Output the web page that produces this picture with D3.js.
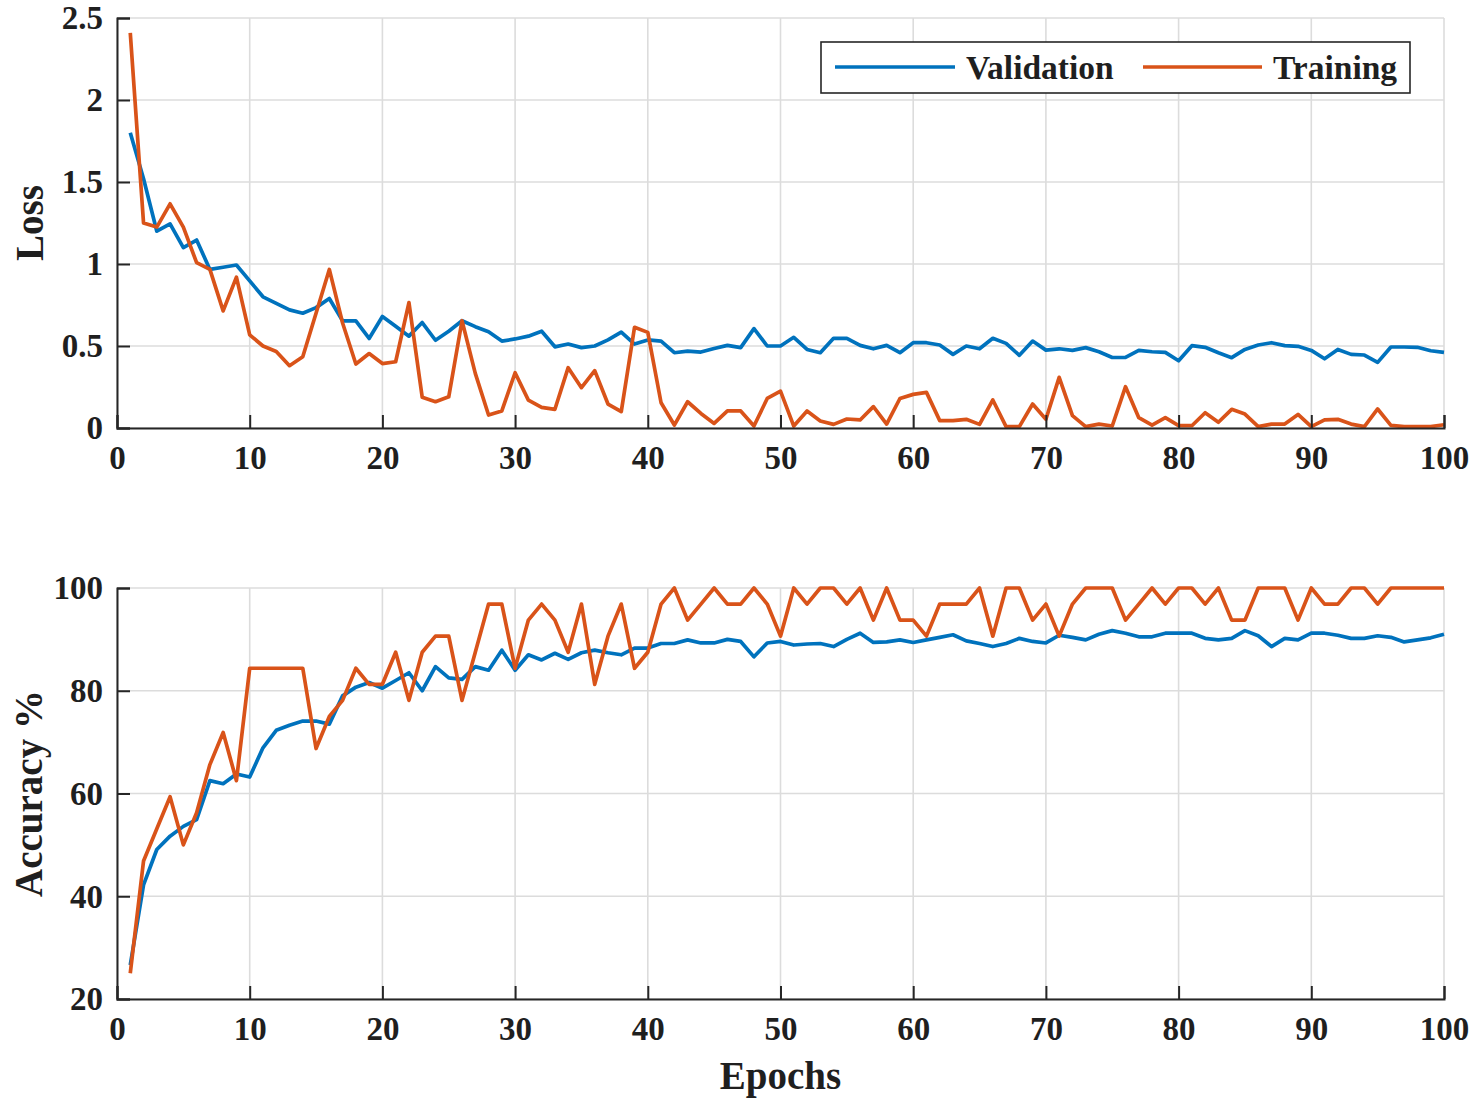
<!DOCTYPE html>
<html>
<head>
<meta charset="utf-8">
<script src="https://cdn.jsdelivr.net/npm/d3@7"></script>
<style>
  html, body { margin: 0; padding: 0; background: #fff; }
  svg { display: block; }
  text { font-family: "Liberation Serif", "Times New Roman", serif; font-weight: bold; fill: #1f1f1f; }
</style>
</head>
<body>
<svg id="chart" width="1477" height="1105"></svg>
<script>
const epochs = d3.range(1, 101);

const valLoss = [
  1.80,1.52,1.20,1.245,1.10,1.146,0.967,0.98,0.994,0.897,
  0.80,0.76,0.72,0.70,0.734,0.79,0.653,0.653,0.546,0.68,
  0.62,0.56,0.643,0.535,0.59,0.654,0.618,0.587,0.53,0.543,
  0.56,0.59,0.495,0.512,0.49,0.50,0.537,0.585,0.512,0.537,
  0.53,0.459,0.469,0.463,0.485,0.504,0.49,0.606,0.50,0.50,
  0.553,0.479,0.459,0.547,0.547,0.504,0.483,0.504,0.459,0.52,
  0.52,0.506,0.449,0.50,0.483,0.547,0.516,0.443,0.53,0.475,
  0.483,0.473,0.49,0.465,0.43,0.43,0.473,0.465,0.461,0.41,
  0.502,0.492,0.459,0.429,0.479,0.506,0.52,0.502,0.498,0.473,
  0.422,0.479,0.449,0.445,0.40,0.494,0.494,0.492,0.471,0.461
];

const trainLoss = [
  2.41,1.25,1.225,1.367,1.225,1.008,0.967,0.714,0.92,0.568,
  0.50,0.467,0.38,0.434,0.70,0.967,0.64,0.39,0.454,0.393,
  0.404,0.765,0.187,0.16,0.19,0.654,0.333,0.079,0.104,0.337,
  0.17,0.126,0.114,0.368,0.246,0.35,0.146,0.10,0.614,0.583,
  0.154,0.018,0.16,0.089,0.028,0.104,0.104,0.012,0.18,0.225,
  0.012,0.104,0.043,0.022,0.055,0.049,0.13,0.024,0.18,0.205,
  0.217,0.045,0.045,0.053,0.022,0.171,0.008,0.008,0.146,0.053,
  0.309,0.075,0.008,0.024,0.012,0.252,0.063,0.018,0.063,0.014,
  0.014,0.093,0.035,0.114,0.085,0.008,0.024,0.024,0.083,0.008,
  0.049,0.053,0.024,0.008,0.116,0.016,0.008,0.008,0.008,0.02
];

const valAcc = [
  26.6,42.2,49.1,51.7,53.6,54.9,62.5,61.9,63.8,63.2,
  68.9,72.3,73.3,74.1,74.1,73.5,79.0,80.7,81.6,80.5,
  82.0,83.5,80.0,84.7,82.5,82.2,84.7,84.0,87.9,84.0,
  87.0,86.0,87.3,86.1,87.4,87.9,87.4,87.0,88.3,88.3,
  89.2,89.2,89.9,89.3,89.3,90.0,89.6,86.6,89.3,89.6,
  88.9,89.1,89.2,88.6,90.0,91.2,89.4,89.5,89.9,89.4,
  89.9,90.4,90.9,89.7,89.2,88.6,89.2,90.2,89.6,89.3,
  90.8,90.4,89.9,91.0,91.7,91.2,90.5,90.5,91.2,91.2,
  91.2,90.2,89.9,90.2,91.7,90.7,88.6,90.2,89.9,91.2,
  91.2,90.8,90.2,90.2,90.7,90.4,89.5,89.9,90.3,91.0
];

const trainAcc = [
  25.0,46.875,53.125,59.375,50.0,56.25,65.625,71.875,62.5,84.375,
  84.375,84.375,84.375,84.375,68.75,75.0,78.125,84.375,81.25,81.25,
  87.5,78.125,87.5,90.625,90.625,78.125,87.5,96.875,96.875,84.375,
  93.75,96.875,93.75,87.5,96.875,81.25,90.625,96.875,84.375,87.5,
  96.875,100,93.75,96.875,100,96.875,96.875,100,96.875,90.625,
  100,96.875,100,100,96.875,100,93.75,100,93.75,93.75,
  90.625,96.875,96.875,96.875,100,90.625,100,100,93.75,96.875,
  90.625,96.875,100,100,100,93.75,96.875,100,96.875,100,
  100,96.875,100,93.75,93.75,100,100,100,93.75,100,
  96.875,96.875,100,100,96.875,100,100,100,100,100
];

const xTicks = [0,10,20,30,40,50,60,70,80,90,100];
const lossTicks = [0,0.5,1,1.5,2,2.5];
const accTicks = [20,40,60,80,100];
const seriesNames = ["Validation", "Training"];
const colors = ["#0072BD", "#D95319"];

const svg = d3.select("#chart");
const X0 = 117, X1 = 1444;
const x = d3.scaleLinear().domain([0, 100]).range([X0, X1]);

function panel(yDomain, yRange, yTicks, yFmt, series, yTitle, titleX) {
  const y = d3.scaleLinear().domain(yDomain).range(yRange);
  const g = svg.append("g");
  const yBot = yRange[0], yTop = yRange[1];
  g.append("g").selectAll("line").data(xTicks).join("line")
    .attr("x1", d => x(d)).attr("x2", d => x(d))
    .attr("y1", yTop).attr("y2", yBot)
    .attr("stroke", "#dcdcdc").attr("stroke-width", 1.6);
  g.append("g").selectAll("line").data(yTicks).join("line")
    .attr("x1", X0).attr("x2", X1)
    .attr("y1", d => y(d)).attr("y2", d => y(d))
    .attr("stroke", "#dcdcdc").attr("stroke-width", 1.6);

  const line = d3.line().x((d, i) => x(epochs[i])).y(d => y(d));
  series.forEach((s, k) => {
    g.append("path").datum(s)
      .attr("fill", "none").attr("stroke", colors[k])
      .attr("stroke-width", 3.7).attr("stroke-linejoin", "round")
      .attr("d", line);
  });

  const xAxis = d3.axisBottom(x).tickValues(xTicks).tickSize(-13).tickPadding(18).tickFormat(d3.format("d"));
  const gx = g.append("g").attr("transform", `translate(0,${yBot})`).call(xAxis);
  const yAxis = d3.axisLeft(y).tickValues(yTicks).tickSize(-13).tickPadding(14).tickFormat(yFmt);
  const gy = g.append("g").attr("transform", `translate(${X0},0)`).call(yAxis);
  [gx, gy].forEach(a => {
    a.select(".domain").attr("stroke", "#262626").attr("stroke-width", 2);
    a.selectAll(".tick line").attr("stroke", "#262626").attr("stroke-width", 2);
    a.selectAll(".tick text").attr("fill", "#1f1f1f")
      .style("font-family", '"Liberation Serif", "Times New Roman", serif')
      .style("font-weight", "bold").style("font-size", "33px");
  });
  gx.selectAll(".tick text").attr("dy", "0.71em");
  gy.selectAll(".tick text").attr("dy", "0.33em");

  g.append("text")
    .attr("transform", `translate(${titleX},${(yTop + yBot) / 2}) rotate(-90)`)
    .attr("text-anchor", "middle")
    .style("font-size", "39px")
    .text(yTitle);
  return y;
}

panel([0, 2.5], [428, 18], lossTicks, d => d3.format("")(d), [valLoss, trainLoss], "Loss", 43);
panel([20, 100], [999, 588], accTicks, d3.format("d"), [valAcc, trainAcc], "Accuracy %", 42);

svg.append("text")
  .attr("x", (X0 + X1) / 2).attr("y", 1089)
  .attr("text-anchor", "middle").style("font-size", "39px")
  .text("Epochs");

const lg = svg.append("g");
lg.append("rect").attr("x", 821).attr("y", 42).attr("width", 589).attr("height", 51)
  .attr("fill", "#fff").attr("stroke", "#262626").attr("stroke-width", 1.6);
const legendX = [[835, 955, 966], [1143, 1262, 1273]];
seriesNames.forEach((name, k) => {
  lg.append("line").attr("x1", legendX[k][0]).attr("x2", legendX[k][1])
    .attr("y1", 67).attr("y2", 67).attr("stroke", colors[k]).attr("stroke-width", 3.7);
  lg.append("text").attr("x", legendX[k][2]).attr("y", 67).attr("dy", "0.35em")
    .style("font-size", "33.5px").text(name);
});
</script>
</body>
</html>
